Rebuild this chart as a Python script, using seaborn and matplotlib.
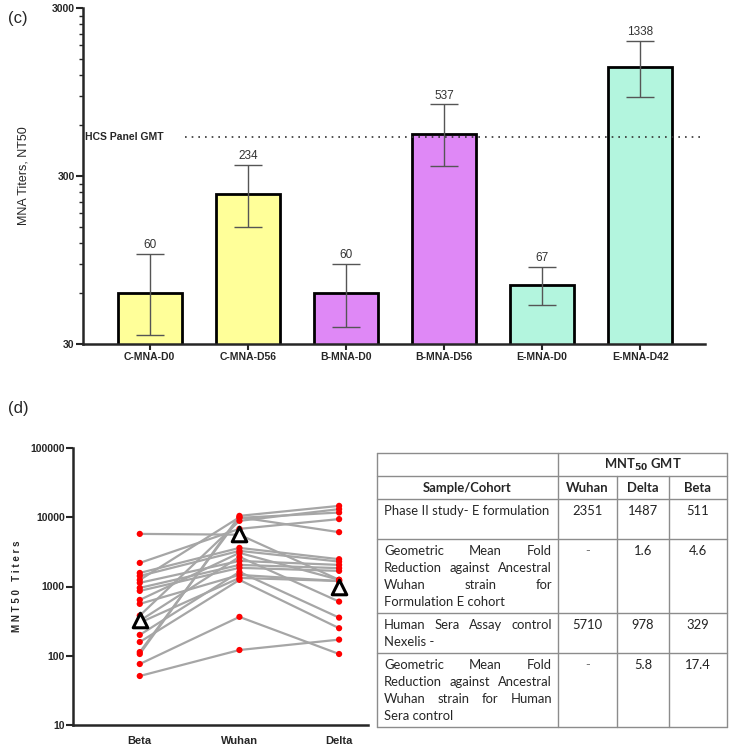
import numpy as np
import pandas as pd
import matplotlib
matplotlib.use("Agg")
import matplotlib.pyplot as plt
import matplotlib.ticker as mticker
import seaborn as sns

# ---- panel (c): MNA titers ----
grupos = ["C-MNA-D0", "C-MNA-D56", "B-MNA-D0", "B-MNA-D56", "E-MNA-D0", "E-MNA-D42"]
gmt = [60, 234, 60, 537, 67, 1338]
ic_bajo = [34, 150, 38, 344, 51, 880]
ic_alto = [103, 348, 90, 800, 86, 1915]
colores = ["#ffff99", "#ffff99", "#df88f6", "#df88f6", "#b3f5de", "#b3f5de"]
hcs_gmt = 515

# ---- panel (d): MNT50 por sujeto ----
variantes = ["Beta", "Wuhan", "Delta"]
beta = [5750, 2190, 1570, 1420, 1245, 1130, 955, 864, 640, 561, 380, 320, 300, 200, 158, 113, 106, 76, 51]
wuhan = [5600, 6800, 3610, 3270, 10000, 2340, 2050, 1860, 3060, 1470, 8870, 2680, 1330, 1625, 1245, 9800, 10470, 364, 121]
delta = [1250, 9400, 2480, 2290, 6090, 2050, 1840, 1680, 1250, 1200, 13100, 605, 1200, 355, 250, 11700, 14600, 106, 171]
gmt_control = [329, 5710, 978]

# ---- tabla ----
tabla_cols = ["Wuhan", "Delta", "Beta"]
tabla_filas = [
    ["Phase II study- E formulation"],
    ["Geometric Mean Fold", "Reduction against Ancestral", "Wuhan strain for", "Formulation E cohort"],
    ["Human Sera Assay control", "Nexelis -"],
    ["Geometric Mean Fold", "Reduction against Ancestral", "Wuhan strain for Human", "Sera control"],
]
tabla_valores = [["2351", "1487", "511"], ["-", "1.6", "4.6"], ["5710", "978", "329"], ["-", "5.8", "17.4"]]

sns.set_style("ticks")
plt.rcParams["font.family"] = ["Liberation Sans", "DejaVu Sans"]

fig = plt.figure(figsize=(7.29, 7.51), dpi=100)
W, H = 729, 751


def caja(x0, y0, x1, y1):
    return [x0 / W, 1 - y1 / H, (x1 - x0) / W, (y1 - y0) / H]


# ---- Gráfica (c) ----
ax1 = fig.add_axes(caja(83, 8, 705, 344))
ax1.set_yscale("log")
sns.barplot(x=grupos, y=gmt, hue=grupos, palette=colores, legend=False, width=0.65,
            edgecolor="black", linewidth=2, saturation=1, ax=ax1)
gmt_a = np.array(gmt)
ax1.errorbar(range(len(grupos)), gmt, yerr=[gmt_a - np.array(ic_bajo), np.array(ic_alto) - gmt_a],
             fmt="none", ecolor="#555555", elinewidth=1, capsize=10, capthick=1, zorder=5)
for i, v in enumerate(gmt):
    ax1.annotate(str(v), (i, ic_alto[i]), xytext=(0, 2), textcoords="offset points",
                 ha="center", va="bottom", fontsize=8.5, color="#333333")
ax1.set_ylim(30, 3000)
ax1.set_xlim(-0.68, 5.66)
ax1.yaxis.set_major_locator(mticker.FixedLocator([30, 300, 3000]))
ax1.yaxis.set_major_formatter(mticker.FixedFormatter(["30", "300", "3000"]))
ax1.yaxis.set_minor_locator(mticker.FixedLocator([60, 90, 120, 150, 180, 210, 240, 270,
                                                  600, 900, 1200, 1500, 1800, 2100, 2400, 2700]))
ax1.yaxis.set_minor_formatter(mticker.NullFormatter())
ax1.tick_params(axis="y", which="major", length=5, width=1.5, labelsize=7.5, pad=1)
ax1.tick_params(axis="y", which="minor", length=3, width=1)
ax1.tick_params(axis="x", length=4, width=1.5, labelsize=7.5, pad=2)
for lab in ax1.get_yticklabels() + ax1.get_xticklabels():
    lab.set_fontweight("bold")
ax1.hlines(hcs_gmt, 0.36, 5.66, linestyles=(0, (1, 3)), color="#333333", lw=1.2)
ax1.text(-0.66, hcs_gmt, "HCS Panel GMT", fontsize=7.5, fontweight="bold", va="center", ha="left")
ax1.set_ylabel("MNA Titers, NT50", fontsize=9, labelpad=16)
for s in ["left", "bottom"]:
    ax1.spines[s].set_linewidth(1.8)
sns.despine(ax=ax1)

# ---- Gráfica (d) ----
ax2 = fig.add_axes(caja(73, 448, 368, 725))
n = len(beta)
df = pd.DataFrame({
    "sujeto": np.tile(np.arange(n), 3),
    "variante": np.repeat(variantes, n),
    "titulo": beta + wuhan + delta,
})
df["pos"] = df["variante"].map({v: i for i, v in enumerate(variantes)})
ax2.set_yscale("log")
sns.lineplot(data=df, x="pos", y="titulo", units="sujeto", estimator=None, color="#a6a6a6",
             lw=1.6, ax=ax2, zorder=2)
sns.scatterplot(data=df, x="pos", y="titulo", color="red", s=20, edgecolor="none", ax=ax2, zorder=3)
sns.scatterplot(x=range(3), y=gmt_control, marker="^", s=110, facecolor="white", edgecolor="black",
                linewidth=2.2, ax=ax2, zorder=4)
ax2.set_ylim(10, 100000)
ax2.set_xlim(-0.67, 2.29)
ax2.set_xticks(range(3))
ax2.set_xticklabels(variantes)
ax2.yaxis.set_major_locator(mticker.FixedLocator([10, 100, 1000, 10000, 100000]))
ax2.yaxis.set_major_formatter(mticker.FixedFormatter(["10", "100", "1000", "10000", "100000"]))
ax2.yaxis.set_minor_locator(mticker.NullLocator())
ax2.tick_params(axis="y", length=5, width=1.5, labelsize=7.5, pad=1)
ax2.tick_params(axis="x", length=0, labelsize=8, pad=8)
for lab in ax2.get_yticklabels() + ax2.get_xticklabels():
    lab.set_fontweight("bold")
ax2.set_xlabel("")
ax2.set_ylabel("M N T 5 0   T i t e r s", fontsize=7, fontweight="bold", labelpad=6)
for s in ["left", "bottom"]:
    ax2.spines[s].set_linewidth(1.8)
sns.despine(ax=ax2)

# ---- capa para etiquetas y tabla en pixeles ----
capa = fig.add_axes([0, 0, 1, 1], facecolor="none")
capa.set_xlim(0, W)
capa.set_ylim(H, 0)
capa.axis("off")
capa.text(8, 18, "(c)", fontsize=12, va="center")
capa.text(8, 408, "(d)", fontsize=12, va="center")

xs = [377, 558, 617, 669, 727]
ys = [453, 476, 499, 539, 613, 653, 727]
gris = "#8c8c8c"
for y in ys:
    capa.plot([xs[0], xs[-1]], [y, y], color=gris, lw=1)
capa.plot([xs[0], xs[0]], [ys[0], ys[-1]], color=gris, lw=1)
capa.plot([xs[-1], xs[-1]], [ys[0], ys[-1]], color=gris, lw=1)
capa.plot([xs[1], xs[1]], [ys[0], ys[-1]], color=gris, lw=1)
for x in xs[2:4]:
    capa.plot([x, x], [ys[1], ys[-1]], color=gris, lw=1)

fuente = ["Lato", "DejaVu Sans"]
fs = 9.4
capa.text((xs[1] + xs[-1]) / 2, (ys[0] + ys[1]) / 2, r"MNT$_{\mathbf{50}}$ GMT", fontsize=fs,
          fontweight="bold", ha="center", va="center", family=fuente)
capa.text((xs[0] + xs[1]) / 2, (ys[1] + ys[2]) / 2, "Sample/Cohort", fontsize=fs, fontweight="bold",
          ha="center", va="center", family=fuente)
for j, c in enumerate(tabla_cols):
    capa.text((xs[j + 1] + xs[j + 2]) / 2, (ys[1] + ys[2]) / 2, c, fontsize=fs, fontweight="bold",
              ha="center", va="center", family=fuente)

fig.canvas.draw()
rend = fig.canvas.get_renderer()
x0, x1 = 384, 552
paso = 17
for i, lineas in enumerate(tabla_filas):
    top = ys[i + 2] + 12
    for k, linea in enumerate(lineas):
        y = top + k * paso
        palabras = linea.split()
        ultima = k == len(lineas) - 1
        if ultima or len(palabras) == 1 or i == 0:
            capa.text(x0, y, linea, fontsize=fs, va="center", ha="left", family=fuente)
            continue
        ts = [capa.text(0, y, p, fontsize=fs, va="center", ha="left", family=fuente) for p in palabras]
        anchos = [t.get_window_extent(rend).width for t in ts]
        hueco = (x1 - x0 - sum(anchos)) / (len(palabras) - 1)
        xx = x0
        for t, a in zip(ts, anchos):
            t.set_x(xx)
            xx += a + hueco
    for j, v in enumerate(tabla_valores[i]):
        capa.text((xs[j + 1] + xs[j + 2]) / 2, top, v, fontsize=fs, ha="center", va="center",
                  family=fuente, color="#222222" if v != "-" else "#777777")

fig.savefig("out.png", dpi=100)
